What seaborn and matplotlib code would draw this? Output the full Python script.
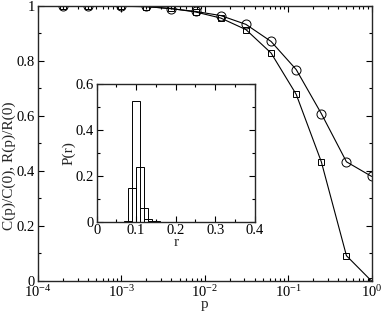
import matplotlib
matplotlib.use("Agg")
import matplotlib.pyplot as plt
from matplotlib.ticker import FuncFormatter, MultipleLocator, LogLocator
import numpy as np
import pandas as pd
import seaborn as sns

# main panel data
p_vals = [0.0002, 0.0004, 0.001, 0.002, 0.0039, 0.0078, 0.0156, 0.03125, 0.0625, 0.125, 0.25, 0.5, 1.0]
c_ratio = [1.0, 1.0, 0.998, 0.997, 0.989, 0.979, 0.964, 0.932, 0.870, 0.768, 0.608, 0.433, 0.380]
r_ratio = [1.0, 1.0, 0.998, 0.996, 0.990, 0.977, 0.955, 0.913, 0.828, 0.678, 0.433, 0.092, 0.0]

# inset histogram
r_bins = [0.08, 0.09, 0.10, 0.11, 0.12, 0.13, 0.14, 0.15]
p_r = [0.002, 0.148, 0.527, 0.237, 0.059, 0.010, 0.005, 0.002]


def num_fmt(v, pos):
    return "%g" % round(v, 3)


sns.set_style("ticks")
plt.rcParams["font.family"] = ["Liberation Serif", "DejaVu Serif"]
plt.rcParams["mathtext.fontset"] = "custom"
plt.rcParams["mathtext.rm"] = "Liberation Serif"
plt.rcParams["mathtext.it"] = "Liberation Serif:italic"
plt.rcParams["axes.linewidth"] = 1.0

fig = plt.figure(figsize=(3.82, 3.14), dpi=100)
ax = fig.add_axes([0.0987, 0.105, 0.874, 0.877])

df = pd.DataFrame({"p": p_vals, "C": c_ratio, "R": r_ratio})
sns.lineplot(x="p", y="C", data=df, ax=ax, color="black", linewidth=0.8, marker="o",
             markersize=6.5, markerfacecolor="none", markeredgecolor="black", markeredgewidth=0.7)
sns.lineplot(x="p", y="R", data=df, ax=ax, color="black", linewidth=0.8, marker="s",
             markersize=5, markerfacecolor="none", markeredgecolor="black", markeredgewidth=0.7)

ax.set_xscale("log")
ax.set_xlim(1e-4, 1)
ax.set_ylim(0, 1)
ax.xaxis.set_major_locator(LogLocator(base=10, numticks=10))
ax.xaxis.set_minor_locator(LogLocator(base=10, subs=np.arange(2, 10), numticks=20))
ax.yaxis.set_major_locator(MultipleLocator(0.2))
ax.yaxis.set_minor_locator(MultipleLocator(0.1))
ax.yaxis.set_major_formatter(FuncFormatter(num_fmt))
ax.tick_params(which="both", direction="in", top=True, right=True, labelsize=10.5, colors="black")
ax.tick_params(which="major", length=4.5, width=0.8, pad=2)
ax.tick_params(which="minor", length=2.5, width=0.8)
ax.set_xlabel("p", fontsize=11, labelpad=-1)
ax.set_ylabel("C(p)/C(0), R(p)/R(0)", fontsize=11)
ax.yaxis.set_label_coords(-0.066, 0.42)

# inset
ins = fig.add_axes([0.253, 0.294, 0.414, 0.438])
hist_df = pd.DataFrame({"r": r_bins, "P": p_r})
sns.barplot(x="r", y="P", data=hist_df, ax=ins, native_scale=True, width=2.0, fill=False,
            color="black", linewidth=0.7, errorbar=None)
ins.set_xlim(0, 0.4)
ins.set_ylim(0, 0.6)
ins.xaxis.set_major_locator(MultipleLocator(0.1))
ins.xaxis.set_minor_locator(MultipleLocator(0.05))
ins.yaxis.set_major_locator(MultipleLocator(0.2))
ins.yaxis.set_minor_locator(MultipleLocator(0.1))
ins.xaxis.set_major_formatter(FuncFormatter(num_fmt))
ins.yaxis.set_major_formatter(FuncFormatter(num_fmt))
ins.tick_params(which="both", direction="in", top=True, right=True, labelsize=10.5, colors="black")
ins.tick_params(which="major", length=4, width=0.8, pad=2)
ins.tick_params(which="minor", length=2.5, width=0.8)
ins.set_xlabel("r", fontsize=11, labelpad=-1)
ins.set_ylabel("P(r)", fontsize=11, labelpad=0)

fig.savefig("out.png", dpi=100)
